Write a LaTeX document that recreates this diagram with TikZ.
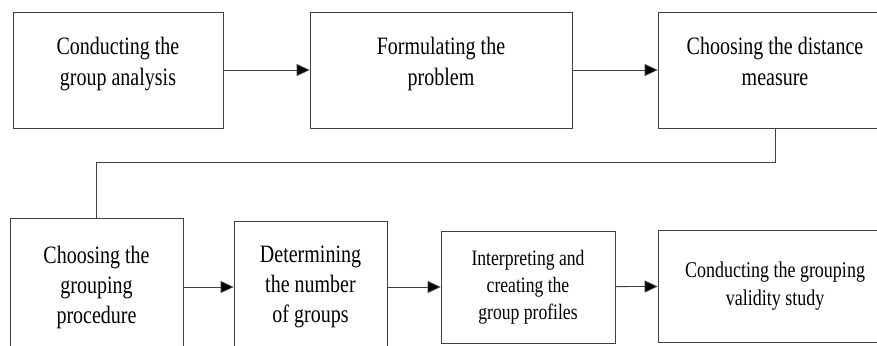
\documentclass[tikz,border=0pt]{standalone}
\usepackage{fontspec}
\setmainfont{Liberation Serif}
\newfontfamily\stagefont[FakeStretch=0.8]{Liberation Serif}
\usetikzlibrary{arrows.meta}

\newcommand{\lift}{\rule[-18pt]{0pt}{1pt}} % pousse le texte vers le haut

\tikzset{
    stage/.style={draw=black!75, line width=0.8pt, rectangle, align=center, inner sep=0pt, font=\stagefont\fontsize{25}{31}\selectfont},
    flow/.style={draw=black!75, line width=0.8pt, -{Triangle[length=13pt,width=12pt,fill=black]}},
    link/.style={draw=black!75, line width=0.8pt}
}

\begin{document}
\begin{tikzpicture}[x=1pt,y=-1pt]
    \useasboundingbox (0,0) rectangle (877,345);
    \clip (0,0) rectangle (877,345);

    % rangee du haut
    \node[stage, minimum width=210pt, minimum height=116pt] (analysis) at (118,70) {Conducting the\\group analysis\lift};
    \node[stage, minimum width=262pt, minimum height=116pt] (problem) at (441,70) {Formulating the\\problem\lift};
    \node[stage, minimum width=234pt, minimum height=116pt] (distance) at (775,70) {Choosing the distance\\measure\lift};

    % rangee du bas
    \node[stage, minimum width=173pt, minimum height=138pt, font=\stagefont\fontsize{25}{30}\selectfont] (procedure) at (96.5,287) {Choosing the\\grouping\\procedure};
    \node[stage, minimum width=153pt, minimum height=132pt, font=\stagefont\fontsize{25}{30}\selectfont] (number) at (310.5,287) {Determining\\the number\\of groups};
    \node[stage, minimum width=174pt, minimum height=112pt, font=\stagefont\fontsize{22}{27}\selectfont] (profiles) at (528,287) {Interpreting and\\creating the\\group profiles};
    \node[stage, minimum width=234pt, minimum height=112pt, font=\stagefont\fontsize{22.5}{28}\selectfont] (validity) at (775,286) {Conducting the grouping\\validity study};

    % fleches
    \draw[flow] (analysis) -- (problem);
    \draw[flow] (problem) -- (distance);
    \draw[flow] (procedure) -- (number);
    \draw[flow] (number) -- (profiles);
    \draw[flow] (profiles) -- (validity);

    % retour vers la rangee du bas
    \coordinate (turn) at (0,162);
    \draw[link] (distance.south) -- (distance.south |- turn) -| (procedure.north);
\end{tikzpicture}
\end{document}
